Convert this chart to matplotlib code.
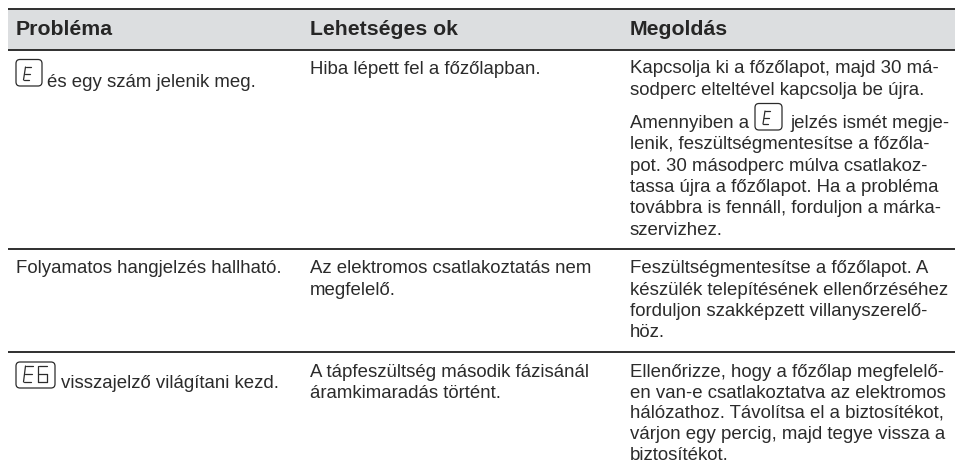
import matplotlib
matplotlib.use("Agg")
import matplotlib.pyplot as plt
from matplotlib.patches import FancyBboxPatch, Rectangle

plt.rcParams['font.family'] = ['Liberation Sans', 'DejaVu Sans']

headers = ["Probléma", "Lehetséges ok", "Megoldás"]
col_x = [16, 310, 630]

# (x, baseline y, text)
body_texts = [
    (47, 87, "és egy szám jelenik meg."),
    (310, 74, "Hiba lépett fel a főzőlapban."),
    (630, 73, "Kapcsolja ki a főzőlapot, majd 30 má-"),
    (630, 95, "sodperc elteltével kapcsolja be újra."),
    (630, 128, "Amennyiben a"),
    (790, 128, "jelzés ismét megje-"),
    (630, 149, "lenik, feszültségmentesítse a főzőla-"),
    (630, 171, "pot. 30 másodperc múlva csatlakoz-"),
    (630, 192, "tassa újra a főzőlapot. Ha a probléma"),
    (630, 213, "továbbra is fennáll, forduljon a márka-"),
    (630, 235, "szervizhez."),
    (16, 273, "Folyamatos hangjelzés hallható."),
    (310, 273, "Az elektromos csatlakoztatás nem"),
    (310, 295, "megfelelő."),
    (630, 273, "Feszültségmentesítse a főzőlapot. A"),
    (630, 295, "készülék telepítésének ellenőrzéséhez"),
    (630, 316, "forduljon szakképzett villanyszerelő-"),
    (630, 337, "höz."),
    (61, 388, "visszajelző világítani kezd."),
    (310, 377, "A tápfeszültség második fázisánál"),
    (310, 398, "áramkimaradás történt."),
    (630, 377, "Ellenőrizze, hogy a főzőlap megfelelő-"),
    (630, 398, "en van-e csatlakoztatva az elektromos"),
    (630, 418, "hálózathoz. Távolítsa el a biztosítékot,"),
    (630, 439, "várjon egy percig, majd tegye vissza a"),
    (630, 460, "biztosítékot."),
]
rule_y = [8.5, 49.5, 249, 352]
# x, y, w, h, label, glyph x, glyph y, glyph w, glyph h, glyph step
icons = [
    (16, 59.5, 26, 26.5, "E", 23.5, 67, 7, 13, 0),
    (755, 103.5, 27, 26.5, "E", 763, 111, 7, 13, 0),
    (16, 362, 39, 26, "E6", 23.5, 366, 9, 16, 14),
]

ink = "#2b2b2b"
fig = plt.figure(figsize=(9.55, 4.70), dpi=100)
ax = fig.add_axes([0, 0, 1, 1])
ax.set_xlim(0, 955)
ax.set_ylim(470, 0)
ax.axis("off")

ax.add_patch(Rectangle((8, 8.5), 947, 41, fc="#dcdee0", ec="none"))
for y in rule_y:
    ax.plot([8, 955], [y, y], color="#2f2f2f", lw=1.4, solid_capstyle="butt")

for x, h in zip(col_x, headers):
    ax.text(x, 35, h, fontsize=15.3, fontweight="bold", color="#262626", va="baseline")

for x, y, t in body_texts:
    ax.text(x, y, t, fontsize=13.4, color=ink, va="baseline")

def seven(x, y, w, h, ch):
    segs = {
        "E": [[(x + 2, y), (x + w, y)], [(x + 2, y), (x, y + h)],
              [(x, y + h), (x + w - 2, y + h)], [(x + 1, y + h / 2), (x + w - 1, y + h / 2)]],
        "6": [[(x + 1, y), (x + w, y)], [(x, y), (x, y + h)], [(x, y + h), (x + w, y + h)],
              [(x + w, y + h), (x + w, y + h / 2)], [(x, y + h / 2), (x + w, y + h / 2)]],
    }
    for seg in segs[ch]:
        ax.plot(*zip(*seg), color=ink, lw=0.9, solid_capstyle="round")

for x, y, w, h, label, gx, gy, gw, gh, step in icons:
    ax.add_patch(FancyBboxPatch((x + 3, y + 3), w - 6, h - 6,
                                boxstyle="round,pad=3,rounding_size=4",
                                fc="white", ec=ink, lw=0.9))
    for i, ch in enumerate(label):
        seven(gx + i * step, gy, gw, gh, ch)

fig.savefig("out.png", dpi=100, facecolor="white")
